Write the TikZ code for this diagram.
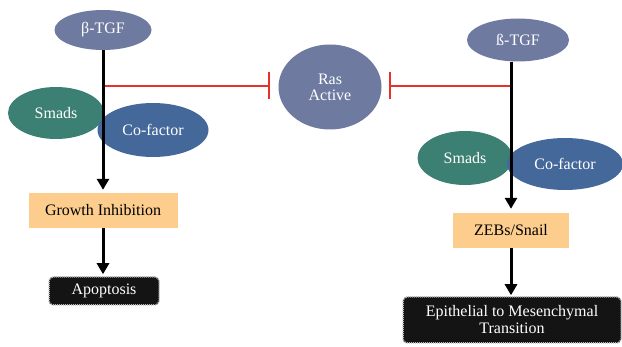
\documentclass[tikz,border=0pt]{standalone}
\usepackage{fontspec}
\setmainfont{Liberation Serif}
\usetikzlibrary{shapes.geometric,arrows.meta}
\definecolor{tgf}{HTML}{6F7AA0}
\definecolor{smad}{HTML}{3B8072}
\definecolor{cof}{HTML}{45689A}
\definecolor{orangebox}{HTML}{FCCD8C}
\definecolor{darkbox}{HTML}{141414}
\definecolor{inhib}{HTML}{E5322D}
\begin{document}
\begin{tikzpicture}[x=1pt,y=-1pt,font=\fontsize{16}{18}\selectfont]
\tikzset{
  oval/.style={ellipse,inner sep=0pt,text=white},
  obox/.style={rectangle,fill=orangebox,inner sep=0pt,text=black},
  bbox/.style={rectangle,fill=darkbox,draw=gray!55,line width=1.5pt,dash pattern=on 1pt off 1pt,rounded corners=4pt,inner sep=0pt,text=white,align=center},
  flow/.style={line width=3pt,-{Triangle[length=11pt,width=12pt]}},
  block/.style={draw=inhib,line width=2pt,-{Bar[width=27pt,line width=2pt]}}
}
\useasboundingbox (0,0) rectangle (622,347);
% left pathway
\node[oval,fill=tgf,minimum width=97pt,minimum height=40pt] (tgfL) at (103,30) {β-TGF};
\node[oval,fill=smad,minimum width=96pt,minimum height=52pt] (smadL) at (56,113) {Smads};
\node[oval,fill=cof,minimum width=111pt,minimum height=54pt] (cofL) at (153,130) {Co-factor};
\node[obox,minimum width=149pt,minimum height=35pt] (growth) at (103,210.5) {Growth Inhibition};
\node[bbox,minimum width=110pt,minimum height=28pt] (apop) at (104,291) {Apoptosis};
% centre
\node[oval,fill=tgf,minimum width=103pt,minimum height=85pt,align=center] (ras) at (330,87) {Ras\\[-2pt]Active};
% right pathway
\node[oval,fill=tgf,minimum width=102pt,minimum height=43pt] (tgfR) at (518,40) {ß-TGF};
\node[oval,fill=smad,minimum width=95pt,minimum height=54pt] (smadR) at (465,158) {Smads};
\node[oval,fill=cof,minimum width=116pt,minimum height=52pt] (cofR) at (565,164) {Co-factor};
\node[obox,minimum width=116pt,minimum height=35pt] (zebs) at (511,230.5) {ZEBs/Snail};
\node[bbox,minimum width=218pt,minimum height=46pt] (emt) at (512,320) {Epithelial to Mesenchymal\\[-1pt]Transition};
% junctions
\coordinate (jL) at (103,86);
\coordinate (jR) at (511,86);
% inhibition
\draw[block,shorten >=8pt] (jL) -- (jL -| ras.west);
\draw[block,shorten >=7pt] (jR) -- (jR -| ras.east);
% flows
\draw[flow,shorten >=3pt] (tgfL.south) -- (growth.north);
\draw[flow,shorten >=2pt] (growth.south) -- (growth.south |- apop.north);
\draw[flow,shorten >=4pt] (tgfR.south -| zebs.north) -- (zebs.north);
\draw[flow,shorten >=1pt] (zebs.south) -- (zebs.south |- emt.north);
\end{tikzpicture}
\end{document}
